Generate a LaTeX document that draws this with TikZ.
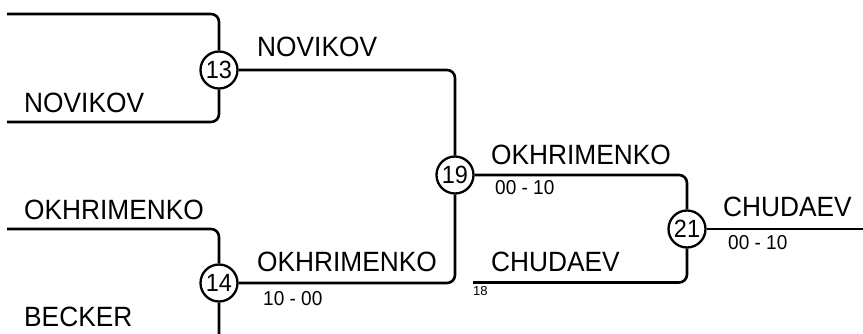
\documentclass[tikz,border=0pt]{standalone}
\usepackage{fontspec}
\setmainfont{Liberation Sans}
\newcommand{\talltext}[1]{\scalebox{1}[1.06]{#1}}
\begin{document}
\begin{tikzpicture}[x=1pt,y=-1pt,
  wire/.style={line width=2.6pt,rounded corners=8pt},
  matchc/.style={circle,draw,line width=2.3pt,minimum size=37pt,inner sep=0pt,fill=white,font=\fontsize{23.5}{26}\selectfont},
  pname/.style={anchor=base west,inner sep=0pt,font=\fontsize{26.3}{29}\selectfont},
  scoretxt/.style={anchor=base west,inner sep=0pt,font=\fontsize{19}{22}\selectfont},
  smallnum/.style={anchor=base west,inner sep=0pt,font=\fontsize{13}{15}\selectfont}]
\useasboundingbox (0,0) rectangle (863,334);
\clip (0,0) rectangle (863,334);
\fill[white] (0,0) rectangle (863,334);
% match nodes
\node[matchc] (m13) at (219,70) {\talltext{13}};
\node[matchc] (m14) at (219,283) {\talltext{14}};
\node[matchc] (m19) at (455,175) {\talltext{19}};
\node[matchc] (m21) at (687,229) {\talltext{21}};
% free ends
\coordinate (c1) at (7,14);
\coordinate (c2) at (7,122);
\coordinate (c3) at (7,229);
\coordinate (c4) at (7,345);
\coordinate (c5) at (473,282.5);
\coordinate (c6) at (870,229);
% connectors
\draw[wire] (c1) -| (m13);
\draw[wire] (c2) -| (m13);
\draw[wire] (c3) -| (m14);
\draw[wire] (c4) -| (m14);
\draw[wire] (m13) -| (m19);
\draw[wire] (m14) -| (m19);
\draw[wire] (m19) -| (m21);
\draw[wire] (c5) -| (m21);
\draw[wire] (m21) -- (c6);
% labels
\node[pname] (l1) at (24,113) {\talltext{NOVIKOV}};
\node[pname] (l2) at (257,57) {\talltext{NOVIKOV}};
\node[pname] (l3) at (24,220) {\talltext{OKHRIMENKO}};
\node[pname] (l4) at (24,326) {\talltext{BECKER}};
\node[pname] (l5) at (257,272) {\talltext{OKHRIMENKO}};
\node[scoretxt] (s1) at (263,305) {\talltext{10 - 00}};
\node[pname] (l6) at (491,165) {\talltext{OKHRIMENKO}};
\node[scoretxt] (s2) at (495,195) {\talltext{00 - 10}};
\node[pname] (l7) at (491,272) {\talltext{CHUDAEV}};
\node[smallnum] (t1) at (473,295) {18};
\node[pname] (l8) at (723,217) {\talltext{CHUDAEV}};
\node[scoretxt] (s3) at (728,250) {\talltext{00 - 10}};
\end{tikzpicture}
\end{document}
